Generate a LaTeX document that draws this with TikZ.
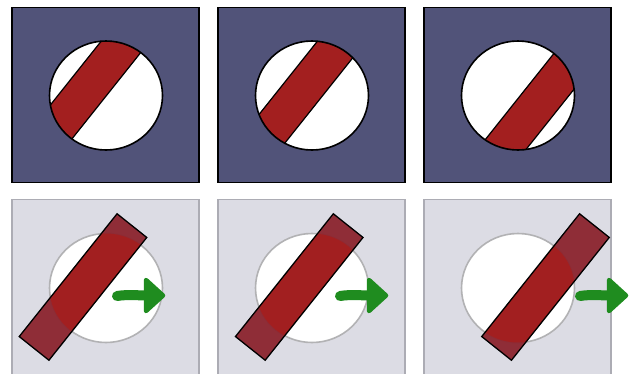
\documentclass[tikz,border=0pt]{standalone}
\definecolor{topfill}{RGB}{81,83,121}
\definecolor{bandred}{RGB}{163,31,31}
\definecolor{botfill}{RGB}{220,220,228}
\definecolor{botline}{RGB}{172,172,180}
\definecolor{ringgray}{RGB}{178,178,180}
\definecolor{barout}{RGB}{140,38,48}
\definecolor{barin}{RGB}{165,30,30}
\definecolor{arrowgreen}{RGB}{31,140,31}
\begin{document}
\begin{tikzpicture}[x=1pt,y=-1pt,
  topbox/.style={fill=topfill,draw=black,line width=1.5pt},
  botbox/.style={fill=botfill,draw=botline,line width=1.2pt},
  discline/.style={draw=black,line width=1.6pt},
  band/.style={fill=bandred,draw=black,line width=1.2pt},
  ringline/.style={draw=ringgray,line width=1.6pt},
  barline/.style={draw=black,line width=1.3pt},
  shaftline/.style={draw=arrowgreen,line width=10pt,line cap=round},
  headshape/.style={fill=arrowgreen,draw=arrowgreen,line width=4.5pt,line join=round},
  rad/.style={x radius=56.5,y radius=54.5}]
\useasboundingbox (0,0) rectangle (634,373);
\clip (0,0) rectangle (634,373);
\foreach \x/\b/\a [count=\i] in {12/83/117, 218/299.25/340, 424/545.5/580}{
  % top row
  \draw[topbox] (\x,7.5) rectangle ++(187,175);
  \coordinate (tc\i) at (\x+94,95.5);
  \fill[white] (tc\i) ellipse [rad];
  \begin{scope}
    \clip (tc\i) ellipse [rad];
    \draw[band,shift={(\b,94.5)},rotate=51.45] (-78.5,-19) rectangle (78.5,19);
  \end{scope}
  \draw[discline] (tc\i) ellipse [rad];
  % bottom row
  \draw[botbox] (\x,199.5) rectangle ++(187,190);
  \coordinate (bc\i) at (\x+94,288);
  \fill[white] (bc\i) ellipse [rad];
  \draw[ringline] (bc\i) ellipse [rad];
  \fill[barout,fill opacity=0.96,shift={(\b,287)},rotate=51.45] (-78.5,-19) rectangle (78.5,19);
  \begin{scope}
    \clip (bc\i) ellipse [rad];
    \fill[barin,fill opacity=0.9,shift={(\b,287)},rotate=51.45] (-78.5,-19) rectangle (78.5,19);
  \end{scope}
  \draw[barline,shift={(\b,287)},rotate=51.45] (-78.5,-19) rectangle (78.5,19);
  % arrow
  \coordinate (as\i) at (\a,296);
  \coordinate (ab\i) at (\a+31,295);
  \draw[shaftline] (as\i) .. controls (\a+12,294) and (\a+22,296) .. (ab\i);
  \filldraw[headshape] (\a+29,280) -- (\a+46,295.5) -- (\a+29,311) -- cycle;
}
\end{tikzpicture}
\end{document}
